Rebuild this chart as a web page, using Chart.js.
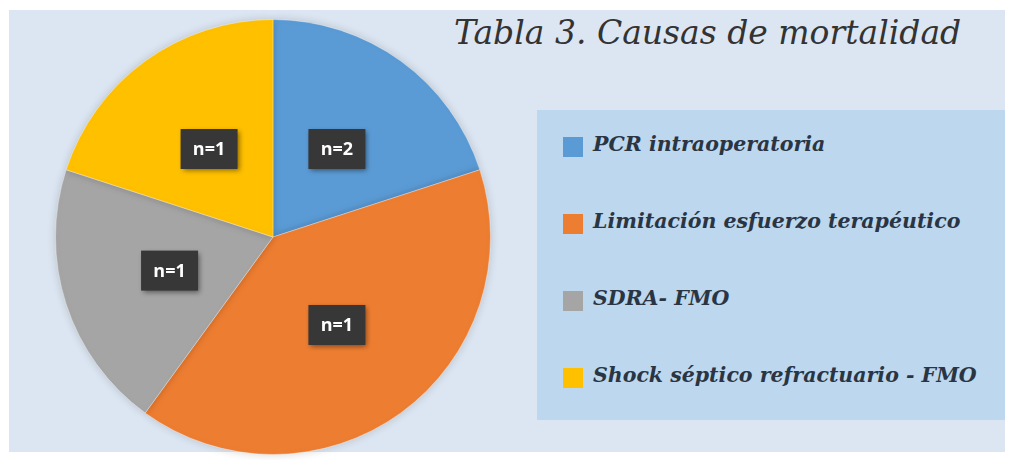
<!DOCTYPE html>
<html>
<head>
<meta charset="utf-8">
<script src="https://cdn.jsdelivr.net/npm/chart.js@4"></script>
<style>
  body { margin: 0; background: #fff; }
  #wrap { position: relative; width: 1014px; height: 460px; overflow: hidden; }
  #bg { position: absolute; left: 9px; top: 10px; width: 996px; height: 442px; background: #dce6f2; }
  #title {
    position: absolute; left: 454px; top: 13px;
    font-family: "DejaVu Serif", serif; font-style: italic;
    font-size: 33px; color: #333; white-space: nowrap;
  }
  #legend {
    position: absolute; left: 537px; top: 110px; width: 468px; height: 310px;
    background: #bdd7ee;
  }
  .item {
    position: absolute; left: 26px; height: 24px;
    font-family: "DejaVu Serif", serif; font-style: italic; font-weight: bold;
    font-size: 20.5px; color: #2a3544; white-space: nowrap; line-height: 24px;
  }
  .item span.box { display: inline-block; width: 20px; height: 20px; margin-right: 10px; vertical-align: -6px; }
  canvas { position: absolute; left: 0; top: 0; }
</style>
</head>
<body>
<div id="wrap">
  <div id="bg"></div>
  <div id="title">Tabla 3. Causas de mortalidad</div>
  <div id="legend"></div>
  <canvas id="chart" width="1014" height="460"></canvas>
</div>
<script>
/* Categories, values and the labels printed on the slices */
const causes = ['PCR intraoperatoria', 'Limitación esfuerzo terapéutico', 'SDRA- FMO', 'Shock séptico refractuario - FMO'];
const values = [1, 2, 1, 1];
const sliceLabels = ['n=2', 'n=1', 'n=1', 'n=1'];
const colors = ['#5b9bd5', '#ed7d31', '#a5a5a5', '#ffc000'];

/* Dark label boxes in the middle of each slice */
const boxLabels = {
    id: 'boxLabels',
    afterDatasetsDraw(chart) {
        const ctx = chart.ctx;
        const meta = chart.getDatasetMeta(0);
        ctx.save();
        ctx.font = 'bold 18px "Open Sans", sans-serif';
        ctx.textAlign = 'center';
        ctx.textBaseline = 'middle';
        meta.data.forEach((arc, i) => {
            const p = arc.getCenterPoint();
            const w = 57, h = 40;
            ctx.shadowColor = 'rgba(0,0,0,0.45)';
            ctx.shadowBlur = 5;
            ctx.shadowOffsetX = 2;
            ctx.shadowOffsetY = 2;
            ctx.fillStyle = '#373737';
            ctx.fillRect(p.x - w / 2, p.y - h / 2, w, h);
            ctx.shadowColor = 'transparent';
            ctx.fillStyle = '#fff';
            ctx.fillText(sliceLabels[i], p.x, p.y + 1);
        });
        ctx.restore();
    }
};

/* Soft shadow under the pie */
const pieShadow = {
    id: 'pieShadow',
    beforeDatasetsDraw(chart) {
        chart.ctx.save();
        chart.ctx.shadowColor = 'rgba(0,0,0,0.18)';
        chart.ctx.shadowBlur = 8;
    },
    afterDatasetsDraw(chart) {
        chart.ctx.restore();
    }
};

/* Build the HTML legend from the same arrays */
function buildLegend() {
    const legend = document.getElementById('legend');
    causes.forEach((c, i) => {
        const div = document.createElement('div');
        div.className = 'item';
        div.style.top = (22 + i * 77) + 'px';
        div.innerHTML = '<span class="box" style="background:' + colors[i] + '"></span>' + c;
        legend.appendChild(div);
    });
}

function init() {
    buildLegend();
    new Chart(document.getElementById('chart'), {
        type: 'pie',
        data: {
            labels: causes,
            datasets: [{
                data: values,
                backgroundColor: colors,
                borderColor: 'rgba(255,255,255,0.35)',
                borderWidth: 1
            }]
        },
        options: {
            responsive: false,
            animation: false,
            layout: { padding: { left: 55, top: 19, right: 523, bottom: 5 } },
            plugins: {
                legend: { display: false },
                tooltip: { enabled: false }
            }
        },
        plugins: [pieShadow, boxLabels]
    });
}

window.addEventListener('load', init);
</script>
</body>
</html>
